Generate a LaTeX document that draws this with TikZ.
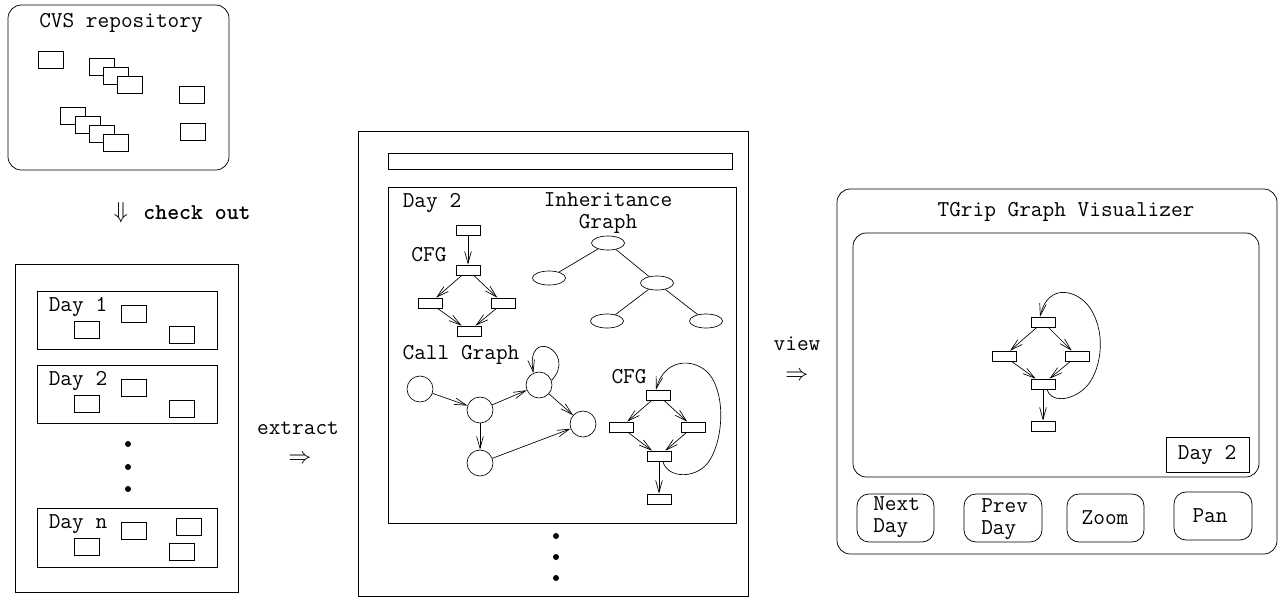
\documentclass[tikz,border=0pt]{standalone}
\usetikzlibrary{arrows.meta,shapes.geometric}
\begin{document}
\begin{tikzpicture}[x=0.75pt,y=-0.75pt,
 lab/.style={font=\ttfamily\fontsize{17}{16.5}\selectfont, inner sep=0pt},
 sym/.style={font=\fontsize{17}{17}\selectfont, inner sep=0pt},
 frame/.style={draw, line width=0.55pt},
 doc/.style={draw, fill=white, line width=0.55pt, minimum width=18.75pt, minimum height=12.75pt, inner sep=0pt},
 blk/.style={draw, fill=white, line width=0.5pt, minimum width=18pt, minimum height=7.5pt, inner sep=0pt},
 ell/.style={draw, ellipse, line width=0.5pt, minimum width=24.75pt, minimum height=10.5pt, inner sep=0pt},
 cir/.style={draw, circle, line width=0.5pt, minimum size=19.5pt, inner sep=0pt},
 edge/.style={line width=0.5pt, -{Straight Barb[length=9pt,width=5pt]}},
 plain/.style={line width=0.5pt},
 dot/.style={circle, fill, inner sep=0pt, minimum size=4.5pt},
 btn/.style={draw, rounded corners=9pt, line width=0.55pt}
]
\useasboundingbox (0,0) rectangle (1280,600);

% ---------- CVS repository ----------
\draw[frame, rounded corners=10pt] (8,5) rectangle (229,170);
\node[lab] (cvs) at (121,23) {CVS repository};
\node[doc] (r1) at (50.5,59.5) {};
\node[doc] (r2) at (101.5,67) {};
\node[doc] (r3) at (115.5,75.5) {};
\node[doc] (r4) at (129.5,84.5) {};
\node[doc] (r5) at (191.5,95) {};
\node[doc] (r6) at (193,132) {};
\node[doc] (r7) at (73,116) {};
\node[doc] (r8) at (87.5,125) {};
\node[doc] (r9) at (101.5,134) {};
\node[doc] (r10) at (115.5,143) {};

\node[sym] (coa) at (121,213) {$\Downarrow$};
\node[lab] (co) at (197,213) {\textbf{check out}};

% ---------- checked-out days ----------
\draw[frame] (15,264) rectangle (238,592);
\draw[frame] (37,291) rectangle (217,349);
\draw[frame] (37,365) rectangle (217,423);
\draw[frame] (37,508) rectangle (217,567);
\node[lab] (d1) at (78,307) {Day 1};
\node[lab] (d2) at (78,381) {Day 2};
\node[lab] (dn) at (78,524) {Day n};
\node[doc] (a1) at (133.5,314) {};
\node[doc] (a2) at (86.5,330) {};
\node[doc] (a3) at (181.5,335) {};
\node[doc] (b1) at (133.5,388) {};
\node[doc] (b2) at (86.5,404) {};
\node[doc] (b3) at (181.5,409) {};
\node[doc] (n1) at (133.5,531) {};
\node[doc] (n2) at (86.5,547) {};
\node[doc] (n3) at (188.5,527) {};
\node[doc] (n4) at (181.5,552) {};
\node[dot] (ld1) at (128,444) {};
\node[dot] (ld2) at (128,467) {};
\node[dot] (ld3) at (128,489) {};

\node[lab] (ex) at (298,428) {extract};
\node[sym] (exa) at (300,459) {$\Rightarrow$};

% ---------- extracted graphs ----------
\draw[frame] (358,131) rectangle (748,596);
\draw[frame] (388,153) rectangle (732,169);
\draw[frame] (388,187) rectangle (736,523);
\node[lab] (md) at (432,203) {Day 2};
\node[lab, align=center] (ih) at (608,213) {Inheritance\\Graph};

\node[lab] (cfg1) at (429,255) {CFG};
\node[blk] (ct) at (468,230) {};
\node[blk] (cs) at (468,270) {};
\node[blk] (cl) at (430,303) {};
\node[blk] (cr) at (503,303) {};
\node[blk] (cb) at (469,331) {};
\draw[edge] (ct) -- (cs);
\draw[edge] (cs) -- (cl);
\draw[edge] (cs) -- (cr);
\draw[edge] (cl) -- (cb);
\draw[edge] (cr) -- (cb);

\node[ell] (ia) at (608,243) {};
\node[ell] (ib) at (549,278) {};
\node[ell] (ic) at (657,283) {};
\node[ell] (id) at (607,321) {};
\node[ell] (ie) at (706,321) {};
\draw[plain] (ia) -- (ib);
\draw[plain] (ia) -- (ic);
\draw[plain] (ic) -- (id);
\draw[plain] (ic) -- (ie);

\node[lab] (cg) at (461,355) {Call Graph};
\node[cir] (c1) at (420,389) {};
\node[cir] (c2) at (480,410) {};
\node[cir] (c3) at (539,385) {};
\node[cir] (c4) at (583,424) {};
\node[cir] (c5) at (480,463) {};
\draw[edge] (c1) -- (c2);
\draw[edge] (c2) -- (c3);
\draw[edge] (c3) -- (c4);
\draw[edge] (c2) -- (c5);
\draw[edge] (c5) -- (c4);
\draw[edge] (c3.20) .. controls (578,352) and (525,325) .. (c3.115);

\node[lab] (cfg2) at (629,377) {CFG};
\node[blk] (rt) at (658,395) {};
\node[blk] (rl) at (621,427) {};
\node[blk] (rr) at (693,427) {};
\node[blk] (rb) at (659,456) {};
\node[blk] (re) at (659,499) {};
\draw[edge] (rt) -- (rl);
\draw[edge] (rt) -- (rr);
\draw[edge] (rl) -- (rb);
\draw[edge] (rr) -- (rb);
\draw[edge] (rb) -- (re);
\draw[edge] ([xshift=3pt]rb.south) .. controls (666,476) and (690,480) .. (705,466)
  .. controls (720,452) and (728,405) .. (712,378)
  .. controls (700,358) and (665,355) .. ([xshift=-1.5pt]rt.north);

\node[dot] (md1) at (556,536) {};
\node[dot] (md2) at (556,557) {};
\node[dot] (md3) at (556,578) {};

\node[lab] (vw) at (797,344) {view};
\node[sym] (vwa) at (797,376) {$\Rightarrow$};

% ---------- visualizer ----------
\draw[frame, rounded corners=10pt] (837,189) rectangle (1277,554);
\node[lab] (tg) at (1066,212) {TGrip Graph Visualizer};
\draw[frame, rounded corners=10pt] (853,233) rectangle (1259,477);
\draw[frame] (1166,437) rectangle (1249,472);
\node[lab] (vd) at (1207,455) {Day 2};

\node[blk] (vt) at (1043,322) {};
\node[blk] (vl) at (1004,356) {};
\node[blk] (vr) at (1077,356) {};
\node[blk] (vb) at (1043,384) {};
\node[blk] (ve) at (1043,426) {};
\draw[edge] (vt) -- (vl);
\draw[edge] (vt) -- (vr);
\draw[edge] (vl) -- (vb);
\draw[edge] (vr) -- (vb);
\draw[edge] (vb) -- (ve);
\draw[edge] ([xshift=3pt]vb.south) .. controls (1050,402) and (1070,402) .. (1085,388)
  .. controls (1100,374) and (1108,335) .. (1090,308)
  .. controls (1078,290) and (1048,282) .. ([xshift=-2.25pt]vt.north);

\draw[btn] (857,494) rectangle (934,542);
\draw[btn] (964,494) rectangle (1042,542);
\draw[btn] (1067,494) rectangle (1144,542);
\draw[btn] (1174,492) rectangle (1252,540);
\node[lab, align=left, anchor=west] (bn) at (873,517) {Next\\Day};
\node[lab, align=left, anchor=west] (bp) at (981,519) {Prev\\Day};
\node[lab] (bz) at (1105,518) {Zoom};
\node[lab] (bpn) at (1210,516) {Pan};
\end{tikzpicture}
\end{document}
